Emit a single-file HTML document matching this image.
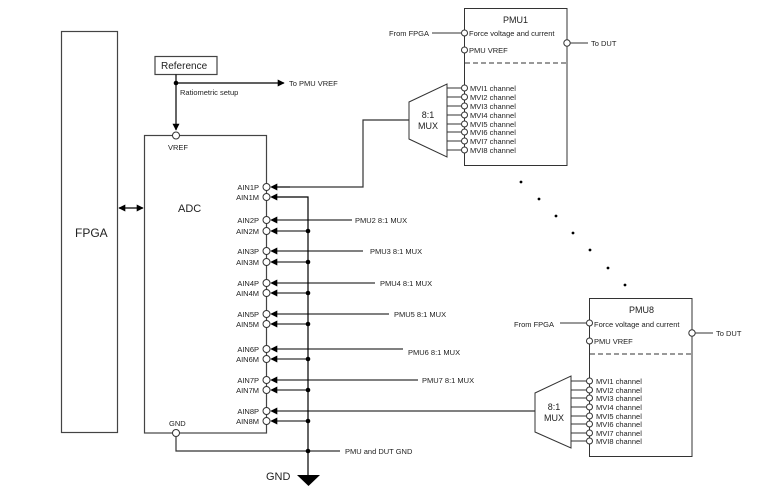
<!DOCTYPE html>
<html><head><meta charset="utf-8"><style>
body{margin:0;background:#fff}
svg{display:block}
text{font-family:"Liberation Sans",sans-serif;fill:#222}
</style></head><body>
<svg width="773" height="500" viewBox="0 0 773 500" xmlns="http://www.w3.org/2000/svg">
<defs>
<marker id="a" viewBox="0 0 10 10" refX="9" refY="5" markerWidth="7" markerHeight="7" orient="auto-start-reverse" markerUnits="userSpaceOnUse"><path d="M0,0L10,5L0,10z" fill="#000"/></marker>
</defs>
<g stroke="#444" stroke-width="1.2" fill="none">
<rect x="61.5" y="31.5" width="56" height="401" fill="#fff"/>
<rect x="144.5" y="135.5" width="122" height="297.5" fill="#fff"/>
<rect x="155" y="56.5" width="62" height="18" fill="#fff"/>
<line x1="176" y1="74.5" x2="176" y2="130" stroke="#000" marker-end="url(#a)"/>
<line x1="176" y1="83" x2="284" y2="83" stroke="#000" marker-end="url(#a)"/>
<line x1="119" y1="208" x2="143" y2="208" stroke="#000" marker-start="url(#a)" marker-end="url(#a)"/>
<polyline points="276,197 308,197 308,475" stroke="#000"/>
<polyline points="176,437 176,451 340,451" stroke="#333"/>
<polyline points="276,187 363,187 363,120 409,120" stroke="#333"/>
</g>
<g stroke="#000" stroke-width="1.1" marker-end="url(#a)">
<line x1="352" y1="220" x2="271" y2="220"/>
<line x1="308" y1="231" x2="271" y2="231"/>
<line x1="363" y1="251" x2="271" y2="251"/>
<line x1="308" y1="262" x2="271" y2="262"/>
<line x1="375" y1="283" x2="271" y2="283"/>
<line x1="308" y1="293" x2="271" y2="293"/>
<line x1="389" y1="314" x2="271" y2="314"/>
<line x1="308" y1="324" x2="271" y2="324"/>
<line x1="403" y1="349" x2="271" y2="349"/>
<line x1="308" y1="359" x2="271" y2="359"/>
<line x1="418" y1="380" x2="271" y2="380"/>
<line x1="308" y1="390" x2="271" y2="390"/>
<line x1="535" y1="411" x2="271" y2="411"/>
<line x1="308" y1="421" x2="271" y2="421"/>
<line x1="290" y1="187" x2="271" y2="187"/>
<line x1="290" y1="197" x2="271" y2="197"/>
</g>
<g fill="#000">
<circle cx="176" cy="83" r="2.3"/>
<circle cx="308" cy="231" r="2.3"/><circle cx="308" cy="262" r="2.3"/><circle cx="308" cy="293" r="2.3"/>
<circle cx="308" cy="324" r="2.3"/><circle cx="308" cy="359" r="2.3"/><circle cx="308" cy="390" r="2.3"/>
<circle cx="308" cy="421" r="2.3"/><circle cx="308" cy="451" r="2.3"/>
<path d="M297,475L320,475L308.5,486z"/>
<circle cx="521" cy="182" r="1.4"/><circle cx="539" cy="199" r="1.4"/><circle cx="556" cy="216" r="1.4"/>
<circle cx="573" cy="233" r="1.4"/><circle cx="590" cy="250" r="1.4"/><circle cx="608" cy="268" r="1.4"/>
<circle cx="625" cy="285" r="1.4"/>
</g>
<g fill="#fff" stroke="#333" stroke-width="1">
<circle cx="176" cy="135.5" r="3.5"/><circle cx="176" cy="433" r="3.5"/>
<circle cx="266.5" cy="187" r="3.5"/><circle cx="266.5" cy="197" r="3.5"/>
<circle cx="266.5" cy="220" r="3.5"/><circle cx="266.5" cy="231" r="3.5"/>
<circle cx="266.5" cy="251" r="3.5"/><circle cx="266.5" cy="262" r="3.5"/>
<circle cx="266.5" cy="283" r="3.5"/><circle cx="266.5" cy="293" r="3.5"/>
<circle cx="266.5" cy="314" r="3.5"/><circle cx="266.5" cy="324" r="3.5"/>
<circle cx="266.5" cy="349" r="3.5"/><circle cx="266.5" cy="359" r="3.5"/>
<circle cx="266.5" cy="380" r="3.5"/><circle cx="266.5" cy="390" r="3.5"/>
<circle cx="266.5" cy="411" r="3.5"/><circle cx="266.5" cy="421" r="3.5"/>
</g>
<g text-anchor="end" font-size="7.5">
<text x="259" y="190">AIN1P</text><text x="259" y="200">AIN1M</text>
<text x="259" y="223">AIN2P</text><text x="259" y="234">AIN2M</text>
<text x="259" y="254">AIN3P</text><text x="259" y="265">AIN3M</text>
<text x="259" y="286">AIN4P</text><text x="259" y="296">AIN4M</text>
<text x="259" y="317">AIN5P</text><text x="259" y="327">AIN5M</text>
<text x="259" y="352">AIN6P</text><text x="259" y="362">AIN6M</text>
<text x="259" y="383">AIN7P</text><text x="259" y="393">AIN7M</text>
<text x="259" y="414">AIN8P</text><text x="259" y="424">AIN8M</text>
</g>
<g font-size="7.5">
<text x="355" y="223">PMU2 8:1 MUX</text>
<text x="370" y="254">PMU3 8:1 MUX</text>
<text x="380" y="286">PMU4 8:1 MUX</text>
<text x="394" y="317">PMU5 8:1 MUX</text>
<text x="408" y="355">PMU6 8:1 MUX</text>
<text x="422" y="383">PMU7 8:1 MUX</text>
<text x="345" y="454">PMU and DUT GND</text>
<text x="289" y="86">To PMU VREF</text>
<text x="180" y="95">Ratiometric setup</text>
<text x="168" y="150">VREF</text>
<text x="169" y="426">GND</text>
</g>
<text x="75" y="237" font-size="12">FPGA</text>
<text x="178" y="212" font-size="11">ADC</text>
<text x="161" y="69" font-size="10">Reference</text>
<text x="266" y="480" font-size="11">GND</text>

<g stroke="#333" stroke-width="1" fill="none">
<rect x="464.5" y="8.5" width="102.5" height="157" fill="#fff"/>
<line x1="465" y1="63" x2="567" y2="63" stroke-dasharray="5,3"/>
<line x1="432" y1="33" x2="461" y2="33"/>
<line x1="570" y1="43" x2="588" y2="43"/>
<path d="M409,102L447,84L447,157L409,139z" fill="#fff"/>
<line x1="447" y1="88" x2="461" y2="88"/><line x1="447" y1="97" x2="461" y2="97"/>
<line x1="447" y1="106" x2="461" y2="106"/><line x1="447" y1="115" x2="461" y2="115"/>
<line x1="447" y1="124" x2="461" y2="124"/><line x1="447" y1="132" x2="461" y2="132"/>
<line x1="447" y1="141" x2="461" y2="141"/><line x1="447" y1="150" x2="461" y2="150"/>
</g>
<g fill="#fff" stroke="#333" stroke-width="1">
<circle cx="464.5" cy="33" r="3"/><circle cx="464.5" cy="50" r="3"/><circle cx="567" cy="43" r="3.2"/>
<circle cx="464.5" cy="88" r="3"/><circle cx="464.5" cy="97" r="3"/><circle cx="464.5" cy="106" r="3"/><circle cx="464.5" cy="115" r="3"/>
<circle cx="464.5" cy="124" r="3"/><circle cx="464.5" cy="132" r="3"/><circle cx="464.5" cy="141" r="3"/><circle cx="464.5" cy="150" r="3"/>
</g>
<g font-size="7.5">
<text x="503" y="23" font-size="9">PMU1</text>
<text x="469" y="36">Force voltage and current</text>
<text x="469" y="53">PMU VREF</text>
<text x="389" y="36">From FPGA</text>
<text x="591" y="46">To DUT</text>
<text x="470" y="91">MVI1 channel</text><text x="470" y="100">MVI2 channel</text>
<text x="470" y="109">MVI3 channel</text><text x="470" y="118">MVI4 channel</text>
<text x="470" y="127">MVI5 channel</text><text x="470" y="135">MVI6 channel</text>
<text x="470" y="144">MVI7 channel</text><text x="470" y="153">MVI8 channel</text>
</g>
<text x="428" y="118" font-size="9" text-anchor="middle">8:1</text>
<text x="428" y="129" font-size="9" text-anchor="middle">MUX</text>

<g stroke="#333" stroke-width="1" fill="none">
<rect x="589.5" y="298.5" width="102.5" height="158" fill="#fff"/>
<line x1="590" y1="354" x2="692" y2="354" stroke-dasharray="5,3"/>
<line x1="560" y1="323" x2="586" y2="323"/>
<line x1="695" y1="333" x2="713" y2="333"/>
<path d="M535,393L571,376L571,448L535,432z" fill="#fff"/>
<line x1="571" y1="381" x2="586" y2="381"/><line x1="571" y1="390" x2="586" y2="390"/>
<line x1="571" y1="398" x2="586" y2="398"/><line x1="571" y1="407" x2="586" y2="407"/>
<line x1="571" y1="416" x2="586" y2="416"/><line x1="571" y1="424" x2="586" y2="424"/>
<line x1="571" y1="433" x2="586" y2="433"/><line x1="571" y1="441" x2="586" y2="441"/>
</g>
<g fill="#fff" stroke="#333" stroke-width="1">
<circle cx="589.5" cy="323" r="3"/><circle cx="589.5" cy="341" r="3"/><circle cx="692" cy="333" r="3.2"/>
<circle cx="589.5" cy="381" r="3"/><circle cx="589.5" cy="390" r="3"/><circle cx="589.5" cy="398" r="3"/><circle cx="589.5" cy="407" r="3"/>
<circle cx="589.5" cy="416" r="3"/><circle cx="589.5" cy="424" r="3"/><circle cx="589.5" cy="433" r="3"/><circle cx="589.5" cy="441" r="3"/>
</g>
<g font-size="7.5">
<text x="629" y="313" font-size="9">PMU8</text>
<text x="594" y="327">Force voltage and current</text>
<text x="594" y="344">PMU VREF</text>
<text x="514" y="327">From FPGA</text>
<text x="716" y="336">To DUT</text>
<text x="596" y="384">MVI1 channel</text><text x="596" y="393">MVI2 channel</text>
<text x="596" y="401">MVI3 channel</text><text x="596" y="410">MVI4 channel</text>
<text x="596" y="419">MVI5 channel</text><text x="596" y="427">MVI6 channel</text>
<text x="596" y="436">MVI7 channel</text><text x="596" y="444">MVI8 channel</text>
</g>
<text x="554" y="410" font-size="9" text-anchor="middle">8:1</text>
<text x="554" y="421" font-size="9" text-anchor="middle">MUX</text>
</svg>
</body></html>
